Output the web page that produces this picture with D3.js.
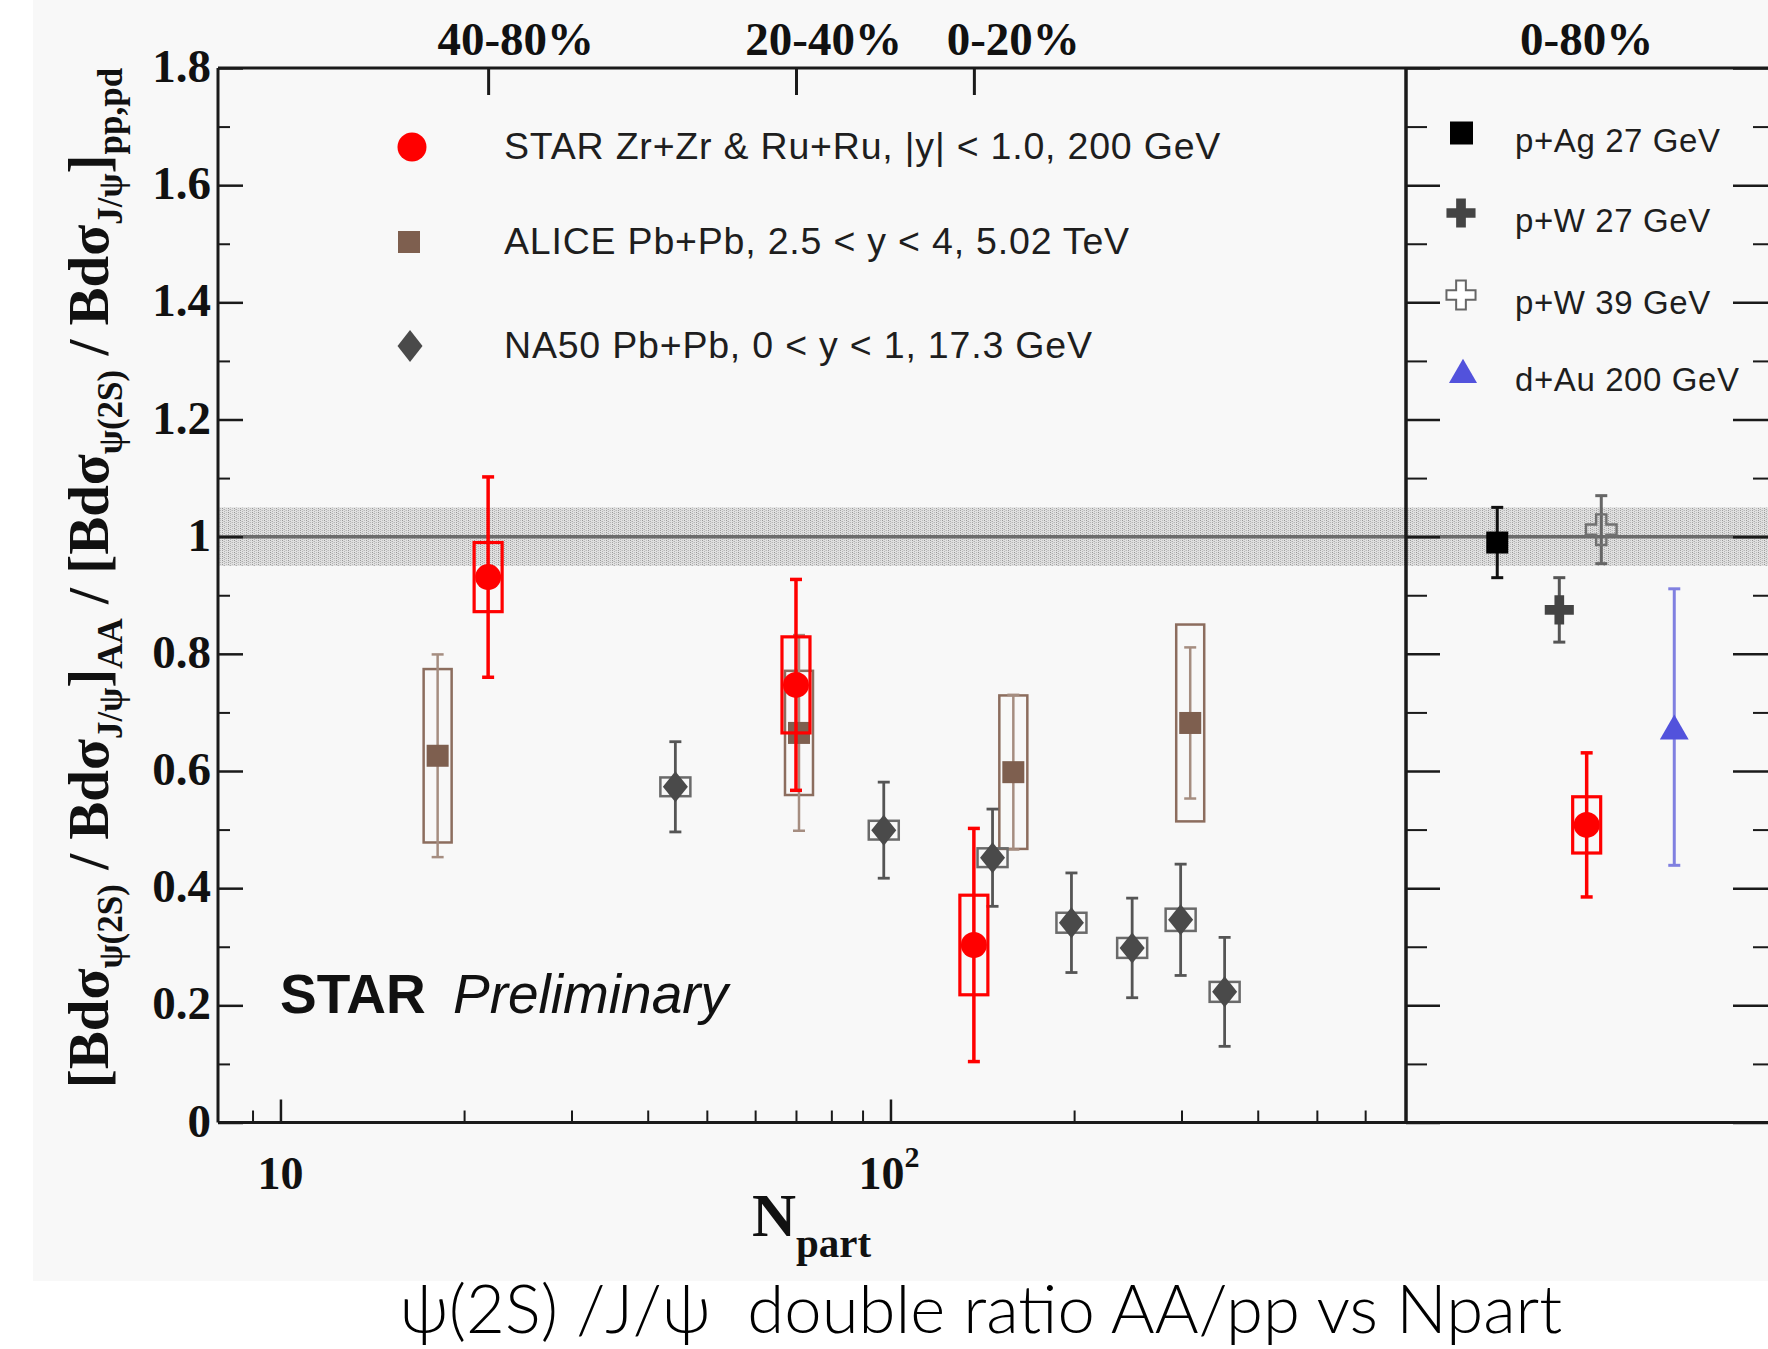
<!DOCTYPE html>
<html>
<head>
<meta charset="utf-8">
<script src="https://cdn.jsdelivr.net/npm/d3@7"></script>
<style>
  html, body { margin: 0; padding: 0; background: #ffffff; }
  svg { display: block; }
</style>
</head>
<body>
<svg id="chart" width="1768" height="1349"></svg>
<script>
// ---------------- data ----------------
// STAR isobar (Zr+Zr & Ru+Ru) centrality bins
const starNpart = [21.9, 70.0, 137];
const starRatio = [0.931, 0.747, 0.303];
const starStat  = [0.171, 0.180, 0.199];
const starSys   = [0.059, 0.082, 0.085];
const starCentrality = ["40-80%", "20-40%", "0-20%"];

// ALICE Pb+Pb, forward rapidity
const aliceNpart = [18.1, 70.8, 159, 310];
const aliceRatio = [0.626, 0.665, 0.598, 0.682];
const aliceStat  = [0.173, 0.167, 0.132, 0.129];
const aliceSys   = [0.148, 0.106, 0.131, 0.168];

// NA50 Pb+Pb at SPS
const na50Npart = [44.4, 97.5, 147, 198, 249, 299, 353];
const na50Ratio = [0.573, 0.499, 0.452, 0.341, 0.298, 0.346, 0.223];
const na50Stat  = [0.077, 0.082, 0.083, 0.085, 0.085, 0.095, 0.093];
const na50Sys   = [0.016, 0.016, 0.016, 0.017, 0.017, 0.019, 0.017];

// integrated 0-80% STAR point and small-system references (slot axis 0..10)
const starIntSlot  = [4.95];
const starIntRatio = [0.508];
const starIntStat  = [0.123];
const starIntSys   = [0.048];
const starIntLabel = ["0-80%"];

const refLabels = ["p+Ag 27 GeV", "p+W 27 GeV", "p+W 39 GeV", "d+Au 200 GeV"];
const refSlot   = [2.5, 4.2, 5.35, 7.35];
const refRatio  = [0.990, 0.875, 1.012, 0.675];
const refStat   = [0.060, 0.055, 0.058, 0.236];

// axes
const yMajor = [0, 0.2, 0.4, 0.6, 0.8, 1.0, 1.2, 1.4, 1.6, 1.8];
const yMajorLabels = ["0", "0.2", "0.4", "0.6", "0.8", "1", "1.2", "1.4", "1.6", "1.8"];
const yMinor = [0.1, 0.3, 0.5, 0.7, 0.9, 1.1, 1.3, 1.5, 1.7];
const xMajor = [10, 100];
const xMinor = [9, 20, 30, 40, 50, 60, 70, 80, 90, 200, 300, 400, 500, 600];
const ppRef = [1.0];
const ppBand = [0.95, 1.05];

const legendMain = [
  "STAR Zr+Zr & Ru+Ru, |y| < 1.0, 200 GeV",
  "ALICE Pb+Pb, 2.5 < y < 4, 5.02 TeV",
  "NA50 Pb+Pb, 0 < y < 1, 17.3 GeV"
];

// ---------------- layout ----------------
const serif = "'Liberation Serif', 'DejaVu Serif', serif";
const sans  = "'Liberation Sans', Arial, sans-serif";
const X0 = 218, XDIV = 1406, XR = 1771, YT = 68, YB = 1122.5;

const svg = d3.select("#chart");

// panel backdrop
svg.append("rect").attr("x", 0).attr("y", 0).attr("width", 1768).attr("height", 1349).attr("fill", "#ffffff");
svg.append("rect").attr("x", 33).attr("y", 0).attr("width", 1735).attr("height", 1281).attr("fill", "#f8f8f8");

const x = d3.scaleLog().domain([7.9, 700]).range([X0, XDIV]);
const xr = d3.scaleLinear().domain([0, 10]).range([XDIV, XR]);
const y = d3.scaleLinear().domain([0, 1.8]).range([YB, YT]);

// dotted texture for the pp normalisation band
const defs = svg.append("defs");
const pat = defs.append("pattern").attr("id", "bandDots")
  .attr("width", 6).attr("height", 4).attr("patternUnits", "userSpaceOnUse");
pat.append("rect").attr("width", 6).attr("height", 4).attr("fill", "#e0e0e0");
[[0,0,"#969696"],[0,2,"#a2a2a2"],[2,1,"#acacac"],[2,3,"#b4b4b4"],[4,0,"#bebebe"],[4,2,"#b8b8b8"],[1,1,"#cccccc"],[3,2,"#cfcfcf"]]
  .forEach(([px, py, c]) => pat.append("rect").attr("x", px).attr("y", py).attr("width", 1).attr("height", 1).attr("fill", c));

const band = svg.append("g");
band.append("rect")
  .attr("x", X0).attr("width", 1768 - X0)
  .attr("y", y(ppBand[1])).attr("height", y(ppBand[0]) - y(ppBand[1]))
  .attr("fill", "url(#bandDots)");
band.append("line")
  .attr("x1", X0).attr("x2", 1768)
  .attr("y1", y(ppRef[0])).attr("y2", y(ppRef[0]))
  .attr("stroke", "#6c6c6c").attr("stroke-width", 3.5);

// ---------------- axes ----------------
const axisG = svg.append("g").attr("class", "axes");
function styleTicks(g, w) {
  g.select(".domain").remove();
  g.selectAll(".tick line").attr("stroke", "#1a1a1a").attr("stroke-width", w || 2.5);
}

// left y axis (ticks point inward)
axisG.append("g").attr("transform", `translate(${X0},0)`)
  .call(d3.axisLeft(y).tickValues(yMajor).tickSize(-25).tickPadding(7)
    .tickFormat((d, i) => yMajorLabels[i]))
  .call(g => {
    styleTicks(g);
    g.selectAll(".tick text").attr("fill", "#111").attr("dy", "0.29em")
      .style("font-family", serif).style("font-weight", "bold").style("font-size", "47px");
  });
axisG.append("g").attr("transform", `translate(${X0},0)`)
  .call(d3.axisLeft(y).tickValues(yMinor).tickSize(-12).tickFormat(""))
  .call(g => styleTicks(g, 2));

// divider axis of the integrated panel (ticks toward the right panel)
axisG.append("g").attr("transform", `translate(${XDIV},0)`)
  .call(d3.axisLeft(y).tickValues(yMajor).tickSize(-34).tickFormat(""))
  .call(g => styleTicks(g));
axisG.append("g").attr("transform", `translate(${XDIV},0)`)
  .call(d3.axisLeft(y).tickValues(yMinor).tickSize(-21).tickFormat(""))
  .call(g => styleTicks(g, 2));
// far right axis
axisG.append("g").attr("transform", `translate(${XR},0)`)
  .call(d3.axisRight(y).tickValues(yMajor).tickSize(-38).tickFormat(""))
  .call(g => styleTicks(g));
axisG.append("g").attr("transform", `translate(${XR},0)`)
  .call(d3.axisRight(y).tickValues(yMinor).tickSize(-18).tickFormat(""))
  .call(g => styleTicks(g, 2));

// bottom log axis
axisG.append("g").attr("transform", `translate(0,${YB})`)
  .call(d3.axisBottom(x).tickValues(xMajor).tickSize(-23).tickFormat(""))
  .call(g => styleTicks(g));
axisG.append("g").attr("transform", `translate(0,${YB})`)
  .call(d3.axisBottom(x).tickValues(xMinor).tickSize(-12).tickFormat(""))
  .call(g => styleTicks(g, 2));

// x tick labels: 10 and 10^2
const xl = axisG.append("g").style("font-family", serif).style("font-weight", "bold")
  .style("font-size", "46px").attr("fill", "#111");
xl.append("text").attr("x", x(xMajor[0])).attr("y", YB + 66).attr("text-anchor", "middle").text("10");
const t100 = xl.append("text").attr("x", x(xMajor[1]) - 32).attr("y", YB + 66).attr("text-anchor", "start");
t100.append("tspan").text("10");
t100.append("tspan").attr("dy", -22).style("font-size", "30px").text("2");

// top centrality ticks
axisG.append("g").attr("transform", `translate(0,${YT})`)
  .call(d3.axisTop(x).tickValues(starNpart).tickSize(-27).tickFormat(""))
  .call(g => styleTicks(g, 3));
const topLab = axisG.append("g").style("font-family", serif).style("font-weight", "bold")
  .style("font-size", "47px").attr("fill", "#111");
starNpart.forEach((n, i) => {
  topLab.append("text").attr("x", x(n) + 106).attr("y", YT - 13).attr("text-anchor", "end").text(starCentrality[i]);
});
topLab.append("text").attr("x", xr(starIntSlot[0])).attr("y", YT - 13).attr("text-anchor", "middle").text(starIntLabel[0]);

// frame lines
const frame = axisG.append("g").attr("stroke", "#1a1a1a").attr("stroke-width", 3);
frame.append("line").attr("x1", X0).attr("x2", 1768).attr("y1", YT).attr("y2", YT);
frame.append("line").attr("x1", X0).attr("x2", 1768).attr("y1", YB).attr("y2", YB);
frame.append("line").attr("x1", X0).attr("x2", X0).attr("y1", YT).attr("y2", YB);
frame.append("line").attr("x1", XDIV).attr("x2", XDIV).attr("y1", YT).attr("y2", YB).attr("stroke-width", 3.5);

// ---------------- data marks ----------------
const plot = svg.append("g");

function errBars(g, xs, vals, errs, color, width, cap) {
  xs.forEach((xv, i) => {
    const y1 = y(vals[i] + errs[i]), y2 = y(vals[i] - errs[i]);
    g.append("line").attr("x1", xv).attr("x2", xv).attr("y1", y1).attr("y2", y2)
      .attr("stroke", color).attr("stroke-width", width);
    [y1, y2].forEach(yy => g.append("line").attr("x1", xv - cap / 2).attr("x2", xv + cap / 2)
      .attr("y1", yy).attr("y2", yy).attr("stroke", color).attr("stroke-width", width));
  });
}
function sysBoxes(g, xs, vals, sys, color, halfW, width) {
  xs.forEach((xv, i) => {
    g.append("rect").attr("x", xv - halfW).attr("width", 2 * halfW)
      .attr("y", y(vals[i] + sys[i])).attr("height", y(vals[i] - sys[i]) - y(vals[i] + sys[i]))
      .attr("fill", "none").attr("stroke", color).attr("stroke-width", width);
  });
}
function diamondPath(w, h) {
  return `M0,${-h / 2}L${w / 2},0L0,${h / 2}L${-w / 2},0Z`;
}

// ALICE
const gA = plot.append("g");
const aX = aliceNpart.map(n => x(n));
sysBoxes(gA, aX, aliceRatio, aliceSys, "#8c6d5e", 14, 2.5);
errBars(gA, aX, aliceRatio, aliceStat, "#a58d80", 2.5, 12);
aX.forEach((xv, i) => gA.append("rect").attr("x", xv - 11).attr("y", y(aliceRatio[i]) - 11)
  .attr("width", 22).attr("height", 22).attr("fill", "#7e5f4f"));

// NA50
const gN = plot.append("g");
const nX = na50Npart.map(n => x(n));
errBars(gN, nX, na50Ratio, na50Stat, "#555555", 2.8, 12);
sysBoxes(gN, nX, na50Ratio, na50Sys, "#6a6a6a", 15, 2.5);
nX.forEach((xv, i) => gN.append("path").attr("transform", `translate(${xv},${y(na50Ratio[i])})`)
  .attr("d", diamondPath(25, 31)).attr("fill", "#4a4a4a"));

// STAR centrality bins
const gS = plot.append("g");
const sX = starNpart.map(n => x(n));
sysBoxes(gS, sX, starRatio, starSys, "#ff0000", 14, 3.2);
errBars(gS, sX, starRatio, starStat, "#ff0000", 3.5, 12);
sX.forEach((xv, i) => gS.append("circle").attr("cx", xv).attr("cy", y(starRatio[i])).attr("r", 13).attr("fill", "#ff0000"));

// integrated panel
const gR = plot.append("g");
const rX = refSlot.map(s => xr(s));
// p+Ag
errBars(gR, [rX[0]], [refRatio[0]], [refStat[0]], "#111111", 3, 12);
gR.append("path").attr("transform", `translate(${rX[0]},${y(refRatio[0])})`)
  .attr("d", d3.symbol(d3.symbolSquare, 484)()).attr("fill", "#000000");
// p+W 27
errBars(gR, [rX[1]], [refRatio[1]], [refStat[1]], "#555555", 3, 12);
gR.append("path").attr("transform", `translate(${rX[1]},${y(refRatio[1])})`)
  .attr("d", d3.symbol(d3.symbolCross, 470)()).attr("fill", "#444444");
// p+W 39 (open)
errBars(gR, [rX[2]], [refRatio[2]], [refStat[2]], "#666666", 3, 12);
gR.append("path").attr("transform", `translate(${rX[2]},${y(refRatio[2])})`)
  .attr("d", d3.symbol(d3.symbolCross, 520)()).attr("fill", "none").attr("stroke", "#707070").attr("stroke-width", 2.4);
// d+Au
errBars(gR, [rX[3]], [refRatio[3]], [refStat[3]], "#8080e0", 3, 12);
gR.append("path").attr("transform", `translate(${rX[3]},${y(refRatio[3]) + 4})`)
  .attr("d", d3.symbol(d3.symbolTriangle, 360)()).attr("fill", "#5252dc");
// STAR 0-80%
const siX = starIntSlot.map(s => xr(s));
sysBoxes(gR, siX, starIntRatio, starIntSys, "#ff0000", 14, 3.2);
errBars(gR, siX, starIntRatio, starIntStat, "#ff0000", 3.5, 12);
siX.forEach((xv, i) => gR.append("circle").attr("cx", xv).attr("cy", y(starIntRatio[i])).attr("r", 13).attr("fill", "#ff0000"));

// ---------------- legends ----------------
const leg = svg.append("g").style("font-family", sans).attr("fill", "#1e1e1e");
const legY = [147, 242, 346];
leg.append("circle").attr("cx", 412).attr("cy", legY[0]).attr("r", 14.5).attr("fill", "#ff0000");
leg.append("rect").attr("x", 398).attr("y", legY[1] - 11).attr("width", 22).attr("height", 22).attr("fill", "#7e5f4f");
leg.append("path").attr("transform", `translate(410,${legY[2]})`).attr("d", diamondPath(25, 32)).attr("fill", "#4a4a4a");
legendMain.forEach((t, i) => leg.append("text").attr("x", 504).attr("y", legY[i] + 12)
  .style("font-size", "37.5px").style("letter-spacing", "0.8px").text(t));

const legR = svg.append("g").style("font-family", sans).attr("fill", "#1e1e1e");
const legRY = [133, 213, 295, 372];
legR.append("rect").attr("x", 1450).attr("y", legRY[0] - 11.5).attr("width", 23).attr("height", 23).attr("fill", "#000");
legR.append("path").attr("transform", `translate(1461,${legRY[1]})`).attr("d", d3.symbol(d3.symbolCross, 470)()).attr("fill", "#444");
legR.append("path").attr("transform", `translate(1461,${legRY[2]})`).attr("d", d3.symbol(d3.symbolCross, 470)())
  .attr("fill", "#fff").attr("stroke", "#666").attr("stroke-width", 2);
legR.append("path").attr("transform", `translate(1463,${legRY[3] + 3})`).attr("d", d3.symbol(d3.symbolTriangle, 340)()).attr("fill", "#5252dc");
refLabels.forEach((t, i) => legR.append("text").attr("x", 1515).attr("y", legRY[i] + 19)
  .style("font-size", "33px").style("letter-spacing", "0.6px").text(t));

// STAR Preliminary tag
const tag = svg.append("text").attr("x", 280).attr("y", 1013).attr("fill", "#111").style("font-family", sans).style("font-size", "55px");
tag.append("tspan").style("font-weight", "bold").text("STAR");
tag.append("tspan").attr("x", 453).style("font-style", "italic").text("Preliminary");

// ---------------- axis titles ----------------
const ytitle = svg.append("text")
  .attr("transform", "translate(108,578) rotate(-90)")
  .attr("text-anchor", "middle")
  .attr("fill", "#111")
  .style("font-family", serif).style("font-weight", "bold").style("font-size", "57px")
  .style("white-space", "pre");
const ySub = 14;
const yParts = [
  ["[Bdσ", 0], ["ψ(2S)", 1], [" / Bdσ", 0], ["J/ψ", 1], ["]", 0], ["AA", 1],
  [" / [Bdσ", 0], ["ψ(2S)", 1], [" / Bdσ", 0], ["J/ψ", 1], ["]", 0], ["pp,pd", 1]
];
let prevSub = 0;
yParts.forEach(([t, s]) => {
  const ts = ytitle.append("tspan").attr("dy", (s - prevSub) * ySub).text(t);
  if (s) ts.style("font-size", "35px");
  prevSub = s;
});

const xtitle = svg.append("text").attr("x", 752).attr("y", 1236).attr("fill", "#111")
  .style("font-family", serif).style("font-weight", "bold").style("font-size", "61px");
xtitle.append("tspan").text("N");
xtitle.append("tspan").attr("dy", 21).style("font-size", "41px").text("part");

// caption under the figure
svg.append("text").attr("x", 981).attr("y", 1333).attr("text-anchor", "middle")
  .attr("fill", "#000").style("font-family", "Lato, 'Noto Sans', sans-serif").style("font-weight", 300)
  .style("font-size", "67px").style("white-space", "pre")
  .text("ψ(2S) /J/ψ  double ratio AA/pp vs Npart");
</script>
</body>
</html>
